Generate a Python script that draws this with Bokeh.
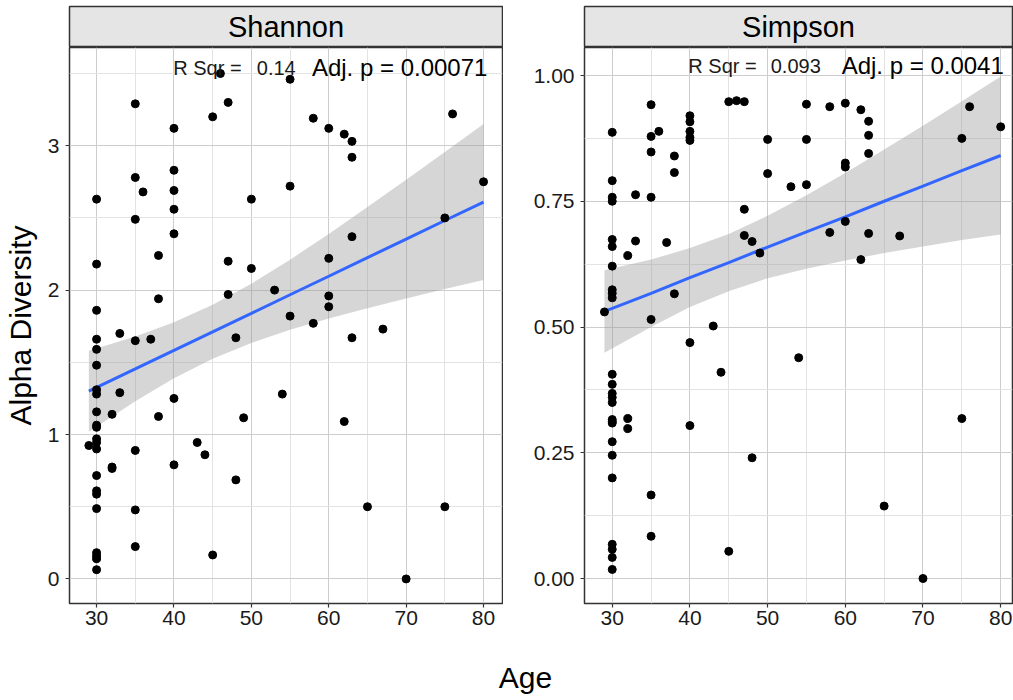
from bokeh.plotting import figure
from bokeh.layouts import column, row
from bokeh.models import FixedTicker, PrintfTickFormatter, Range1d, Label
from bokeh.embed import file_html
from bokeh.resources import INLINE
from bokeh.core.properties import value

FONT = "Liberation Sans"

# ---------------- data ----------------
shannon_age = [30, 35, 40, 40, 40, 35, 36, 45, 46, 47, 50, 55, 55, 58, 60, 62, 63, 63, 76, 80,
               40, 35, 40, 30, 38, 47, 50, 38, 47, 53, 60, 63, 75, 60, 60, 55, 58, 67, 30, 30,
               30, 30, 33, 35, 37, 48, 63, 30, 30, 33, 40, 54,
               30, 32, 38, 49, 62, 30, 30, 29, 30, 30, 30, 35, 43, 44, 40, 32, 32, 30, 30, 30,
               48, 30, 35, 65, 75, 35, 45, 30, 30, 30, 30, 70]
shannon_val = [2.63, 3.29, 3.12, 2.83, 2.69, 2.78, 2.68, 3.20, 3.50, 3.30, 2.63, 3.46, 2.72, 3.19, 3.12, 3.08, 3.03, 2.92, 3.22, 2.75,
               2.56, 2.49, 2.39, 2.18, 2.24, 2.20, 2.15, 1.94, 1.97, 2.00, 2.22, 2.37, 2.50, 1.96, 1.885, 1.82, 1.77, 1.73, 1.86, 1.66,
               1.59, 1.48, 1.70, 1.65, 1.66, 1.67, 1.67, 1.31, 1.28, 1.29, 1.25, 1.28,
               1.157, 1.14, 1.125, 1.116, 1.09, 1.065, 1.05, 0.924, 0.97, 0.945, 0.90, 0.89, 0.945, 0.86, 0.79, 0.765, 0.775, 0.716, 0.61, 0.587,
               0.686, 0.487, 0.478, 0.50, 0.50, 0.224, 0.166, 0.182, 0.16, 0.14, 0.064, 0.0]

simpson_age = [30, 30, 30, 33, 35, 35, 36, 35, 35, 38, 38, 40, 40, 40, 40, 40, 45, 46, 47, 50,
               50, 53, 55, 55, 55, 58, 60, 60, 60, 62, 63, 63, 63, 75, 76, 80,
               30, 30, 30, 33, 32, 37, 30, 30, 30, 30, 29, 38, 35, 40, 43, 44, 54, 47, 47, 48,
               49, 58, 60, 62, 63, 67, 30, 30, 30, 30, 30,
               30, 30, 30, 32, 32, 40, 30, 30, 30, 48, 35, 35, 45, 30, 30, 30, 30, 65, 70, 75]
simpson_val = [0.887, 0.791, 0.758, 0.763, 0.942, 0.879, 0.889, 0.848, 0.758, 0.84, 0.807, 0.92, 0.908, 0.889, 0.877, 0.871, 0.948, 0.95, 0.948, 0.873,
               0.805, 0.779, 0.943, 0.873, 0.783, 0.938, 0.945, 0.826, 0.818, 0.932, 0.909, 0.881, 0.845, 0.875, 0.938, 0.898,
               0.75, 0.674, 0.66, 0.671, 0.642, 0.668, 0.621, 0.574, 0.567, 0.558, 0.53, 0.566, 0.515, 0.469, 0.502, 0.41, 0.439, 0.734, 0.682, 0.67,
               0.647, 0.688, 0.71, 0.634, 0.686, 0.681, 0.406, 0.386, 0.368, 0.36, 0.35,
               0.316, 0.312, 0.309, 0.318, 0.298, 0.304, 0.272, 0.245, 0.20, 0.24, 0.166, 0.084, 0.054, 0.068, 0.058, 0.042, 0.018, 0.144, 0.0, 0.318]

# linear fit and 95% band, read at these ages
fit_age = [29, 35, 40, 45, 50, 55, 60, 65, 70, 75, 80]
shannon_fit = [1.300, 1.454, 1.583, 1.711, 1.839, 1.968, 2.096, 2.225, 2.353, 2.482, 2.610]
shannon_lo = [1.020, 1.230, 1.389, 1.524, 1.634, 1.725, 1.803, 1.875, 1.942, 2.008, 2.070]
shannon_hi = [1.580, 1.678, 1.777, 1.898, 2.044, 2.211, 2.389, 2.575, 2.764, 2.956, 3.150]
simpson_fit = [0.531, 0.567, 0.598, 0.628, 0.659, 0.689, 0.719, 0.750, 0.780, 0.811, 0.841]
simpson_lo = [0.449, 0.500, 0.540, 0.571, 0.597, 0.616, 0.632, 0.647, 0.660, 0.673, 0.684]
simpson_hi = [0.613, 0.634, 0.657, 0.685, 0.721, 0.762, 0.806, 0.853, 0.900, 0.949, 0.998]

age_ticks = [30, 40, 50, 60, 70, 80]
age_minor = [35, 45, 55, 65, 75]
shannon_ticks = [0, 1, 2, 3]
shannon_minor = [0.5, 1.5, 2.5, 3.5]
simpson_ticks = [0.0, 0.25, 0.5, 0.75, 1.0]
simpson_minor = [0.125, 0.375, 0.625, 0.875]

facet_titles = ["Shannon", "Simpson"]
rsq_text = ["0.14", "0.093"]
padj_text = ["Adj. p = 0.00071", "Adj. p = 0.0041"]
x_label = "Age"
y_label = "Alpha Diversity"


def make_strip(title, width, border_left):
    s = figure(width=width, height=47, x_range=Range1d(0, 1), y_range=Range1d(0, 1),
               x_axis_type=None, y_axis_type=None, toolbar_location=None,
               output_backend="svg", title=None,
               min_border_left=border_left, min_border_right=1,
               min_border_top=6, min_border_bottom=0)
    s.grid.visible = False
    s.background_fill_color = "#e5e5e5"
    s.border_fill_color = "white"
    s.outline_line_color = "#333333"
    s.outline_line_width = 1.5
    s.text(x=[0.5], y=[0.5], text=[title], text_align="center", text_baseline="middle",
           text_font=value(FONT), text_font_size="29px", text_color="black")
    return s


def make_panel(ages, vals, fit, lo, hi, xr, yr, yticks, yminor, width, border_left,
               rsq, padj, lab_y, rsq_x, num_x, padj_x, fmt=None, ylab=None):
    p = figure(width=width, height=596, x_range=Range1d(*xr), y_range=Range1d(*yr),
               toolbar_location=None, output_backend="svg", title=None,
               min_border_left=border_left, min_border_right=1,
               min_border_top=0, min_border_bottom=40)
    p.background_fill_color = "white"
    p.border_fill_color = "white"
    p.outline_line_color = "#333333"
    p.outline_line_width = 1.5

    p.xaxis.ticker = FixedTicker(ticks=age_ticks, minor_ticks=age_minor)
    p.yaxis.ticker = FixedTicker(ticks=yticks, minor_ticks=yminor)
    if fmt:
        p.yaxis.formatter = PrintfTickFormatter(format=fmt)
    for g in (p.xgrid, p.ygrid):
        g.grid_line_color = "#cdcdcd"
        g.grid_line_width = 1
        g.minor_grid_line_color = "#e3e3e3"
        g.minor_grid_line_width = 1
    for ax in (p.xaxis, p.yaxis):
        ax.axis_line_color = None
        ax.major_tick_line_color = "#333333"
        ax.major_tick_line_width = 1.2
        ax.major_tick_out = 4
        ax.major_tick_in = 0
        ax.minor_tick_line_color = None
        ax.major_label_text_font = FONT
        ax.major_label_text_font_size = "21px"
        ax.major_label_text_color = "#1a1a1a"
    p.xaxis.major_label_standoff = 3
    p.yaxis.major_label_standoff = 6
    if ylab:
        p.yaxis.axis_label = ylab
        p.yaxis.axis_label_text_font = FONT
        p.yaxis.axis_label_text_font_size = "30px"
        p.yaxis.axis_label_text_font_style = "normal"
        p.yaxis.axis_label_text_color = "black"
        p.yaxis.axis_label_standoff = 8

    p.varea(x=fit_age, y1=lo, y2=hi, fill_color="#999999", fill_alpha=0.4)
    p.line(x=fit_age, y=fit, line_color="#3366FF", line_width=3)
    p.scatter(x=ages, y=vals, size=8, color="black")

    p.add_layout(Label(x=rsq_x, y=lab_y, text="R Sqr =", text_font=FONT, text_font_size="20px",
                       text_baseline="middle", text_align="left", text_color="#1a1a1a"))
    p.add_layout(Label(x=num_x, y=lab_y, text=rsq, text_font=FONT, text_font_size="20px",
                       text_baseline="middle", text_align="left", text_color="#1a1a1a"))
    p.add_layout(Label(x=padj_x, y=lab_y, text=padj, text_font=FONT, text_font_size="24px",
                       text_baseline="middle", text_align="right", text_color="black"))
    return p


s1 = make_strip(facet_titles[0], 503, 68)
s2 = make_strip(facet_titles[1], 510, 81)

p1 = make_panel(shannon_age, shannon_val, shannon_fit, shannon_lo, shannon_hi,
                (26.5, 82.45), (-0.17, 3.68), shannon_ticks, shannon_minor, 503, 68,
                rsq_text[0], padj_text[0], 3.54, 39.9, 50.7, 80.5, ylab=y_label)
p2 = make_panel(simpson_age, simpson_val, simpson_fit, simpson_lo, simpson_hi,
                (26.43, 81.52), (-0.0497, 1.0557), simpson_ticks, simpson_minor, 510, 81,
                rsq_text[1], padj_text[1], 1.019, 39.8, 50.4, 80.4, fmt="%.2f")

pa = figure(width=1013, height=57, x_range=Range1d(0, 1013), y_range=Range1d(0, 57),
            x_axis_type=None, y_axis_type=None, toolbar_location=None,
            output_backend="svg", title=None, min_border=0)
pa.grid.visible = False
pa.outline_line_color = None
pa.text(x=[525], y=[23], text=[x_label], text_align="center", text_baseline="middle",
        text_font=value(FONT), text_font_size="30px", text_color="black")

layout = column(row(column(s1, p1), column(s2, p2)), pa)

open("out.html", "w").write(file_html(layout, INLINE))
